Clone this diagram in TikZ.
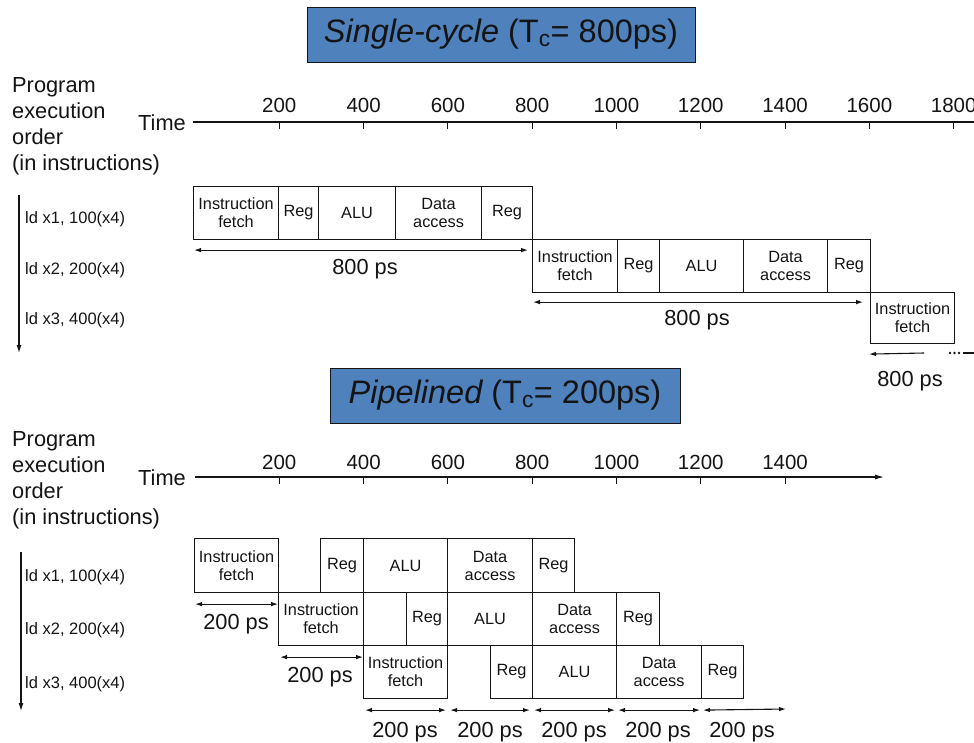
\documentclass[tikz,border=0pt]{standalone}
\usepackage{fontspec}
\setmainfont{Liberation Sans}
\usetikzlibrary{arrows.meta}
\definecolor{titleblue}{HTML}{4F81BD}
\definecolor{ink}{HTML}{141414}
\begin{document}
\begin{tikzpicture}[x=1pt,y=-1pt,
  stg/.style={draw=ink, line width=1.1pt, inner sep=0pt, anchor=north west, align=center, text=ink, font=\fontsize{16.3}{18}\selectfont},
  big/.style={font=\fontsize{21.8}{26}\selectfont, inner sep=0pt, text=ink},
  lefttxt/.style={big, anchor=base west},
  num/.style={font=\fontsize{20.5}{24}\selectfont, inner sep=0pt, anchor=base, text=ink},
  instr/.style={font=\fontsize{16.5}{18}\selectfont, inner sep=0pt, anchor=base west, text=ink},
  dim/.style={{Latex[length=7pt,width=4.5pt]}-{Latex[length=7pt,width=4.5pt]}, line width=1.1pt, draw=ink},
  axis/.style={line width=1.1pt, draw=ink},
  titlebox/.style={draw=ink, line width=0.9pt, fill=titleblue, inner sep=0pt, minimum height=55pt, font=\fontsize{32.5}{36}\selectfont, text=ink}
]
\useasboundingbox (0,0) rectangle (974,742);

% ---------------- titles ----------------
\node[titlebox, minimum width=388pt] (title1) at (501,34.5) {\itshape Single-cycle\upshape{} (T\textsubscript{c}= 800ps)};
\node[titlebox, minimum width=350pt] (title2) at (505,395.5) {\itshape Pipelined\upshape{} (T\textsubscript{c}= 200ps)};

% ================= SINGLE CYCLE =================
\node[lefttxt] (p1a) at (12,92) {Program};
\node[lefttxt] (p1b) at (12,118) {execution};
\node[lefttxt] (p1c) at (12,144) {order};
\node[lefttxt] (p1d) at (12,170) {(in instructions)};
\node[big, anchor=base east] (time1) at (186,130) {Time};

\coordinate (ta0) at (193,122);
\coordinate (taend) at (990,122);
\draw[axis] (ta0) -- (taend);
\foreach \t in {200,400,...,1800}{
  \coordinate (ta\t) at ({195+0.4215*\t},122);
  \draw[axis] (ta\t) -- ++(0,7);
  \node[num] (la\t) at ({195+0.4215*\t},112) {\t};
}

\coordinate (va1) at (19,195);
\coordinate (va2) at (19,353);
\draw[line width=1.2pt, draw=ink, -{Latex[length=8pt,width=5pt]}] (va1) -- (va2);
\node[instr] (i1) at (25,223) {ld x1, 100(x4)};
\node[instr] (i2) at (25,274) {ld x2, 200(x4)};
\node[instr] (i3) at (25,324) {ld x3, 400(x4)};

% row 1
\node[stg, minimum width=85pt, minimum height=53pt] (a1if) at (193,186) {Instruction\\fetch};
\node[stg, minimum width=40pt, minimum height=53pt] (a1r1) at (278,186) {Reg};
\node[stg, minimum width=77pt, minimum height=53pt] (a1alu) at (318,186) {ALU};
\node[stg, minimum width=86pt, minimum height=53pt] (a1da) at (395,186) {Data\\access};
\node[stg, minimum width=51pt, minimum height=53pt] (a1r2) at (481,186) {Reg};
% row 2
\node[stg, minimum width=85pt, minimum height=53pt] (a2if) at (532,239) {Instruction\\fetch};
\node[stg, minimum width=42pt, minimum height=53pt] (a2r1) at (617,239) {Reg};
\node[stg, minimum width=84pt, minimum height=53pt] (a2alu) at (659,239) {ALU};
\node[stg, minimum width=84pt, minimum height=53pt] (a2da) at (743,239) {Data\\access};
\node[stg, minimum width=43pt, minimum height=53pt] (a2r2) at (827,239) {Reg};
% row 3
\node[stg, minimum width=84pt, minimum height=51pt] (a3if) at (870,292) {Instruction\\fetch};

\draw[dim] ([yshift=-10pt,xshift=1pt]a1if.south west) -- ([yshift=-10pt,xshift=-5pt]a1r2.south east);
\node[big] (d1) at (365,269) {800 ps};
\draw[dim] ([yshift=-9pt,xshift=1pt]a2if.south west) -- ([yshift=-9pt,xshift=-8pt]a2r2.south east);
\node[big] (d2) at (697,320) {800 ps};
\coordinate (a3s) at (924,353);
\draw[line width=1.1pt, draw=ink, -{Latex[length=7pt,width=4.5pt]}] (a3s) -- ([yshift=-10pt,xshift=-1pt]a3if.south west);
\fill[ink] (950,353) circle (1.4pt) (954.5,353) circle (1.4pt) (959,353) circle (1.4pt);
\coordinate (dsh1) at (963,353);
\coordinate (dsh2) at (976,353);
\draw[line width=1.1pt, draw=ink] (dsh1) -- (dsh2);
\node[big] (d3) at (910,381) {800 ps};

% ================= PIPELINED =================
\node[lefttxt] (p2a) at (12,446) {Program};
\node[lefttxt] (p2b) at (12,472) {execution};
\node[lefttxt] (p2c) at (12,498) {order};
\node[lefttxt] (p2d) at (12,524) {(in instructions)};
\node[big, anchor=base east] (time2) at (186,485) {Time};

\coordinate (tb0) at (195,477);
\coordinate (tbend) at (884,477);
\draw[axis, -{Latex[length=9pt,width=5pt]}] (tb0) -- (tbend);
\foreach \t in {200,400,...,1400}{
  \coordinate (tb\t) at ({195+0.4215*\t},477);
  \draw[axis] (tb\t) -- ++(0,7);
  \node[num] (lb\t) at ({195+0.4215*\t},469) {\t};
}

\coordinate (vb1) at (21,552);
\coordinate (vb2) at (21,711);
\draw[line width=1.2pt, draw=ink, -{Latex[length=8pt,width=5pt]}] (vb1) -- (vb2);
\node[instr] (j1) at (25,581) {ld x1, 100(x4)};
\node[instr] (j2) at (25,634) {ld x2, 200(x4)};
\node[instr] (j3) at (25,688) {ld x3, 400(x4)};

% row 1
\node[stg, minimum width=84pt, minimum height=54pt] (b1if) at (194,538) {Instruction\\fetch};
\node[stg, minimum width=43pt, minimum height=54pt] (b1r1) at (320,538) {Reg};
\node[stg, minimum width=84pt, minimum height=54pt] (b1alu) at (363,538) {ALU};
\node[stg, minimum width=85pt, minimum height=54pt] (b1da) at (447,538) {Data\\access};
\node[stg, minimum width=42pt, minimum height=54pt] (b1r2) at (532,538) {Reg};
% row 2
\node[stg, minimum width=85pt, minimum height=53pt] (b2if) at (278,592) {Instruction\\fetch};
\node[stg, minimum width=41pt, minimum height=53pt] (b2r1) at (406,592) {Reg};
\node[stg, minimum width=85pt, minimum height=53pt] (b2alu) at (447,592) {ALU};
\node[stg, minimum width=84pt, minimum height=53pt] (b2da) at (532,592) {Data\\access};
\node[stg, minimum width=43pt, minimum height=53pt] (b2r2) at (616,592) {Reg};
% row 3
\node[stg, minimum width=84pt, minimum height=53pt] (b3if) at (363,645) {Instruction\\fetch};
\node[stg, minimum width=42pt, minimum height=53pt] (b3r1) at (490,645) {Reg};
\node[stg, minimum width=84pt, minimum height=53pt] (b3alu) at (532,645) {ALU};
\node[stg, minimum width=85pt, minimum height=53pt] (b3da) at (616,645) {Data\\access};
\node[stg, minimum width=42pt, minimum height=53pt] (b3r2) at (701,645) {Reg};

\draw[dim] ([yshift=-11pt,xshift=1pt]b1if.south west) -- ([yshift=-11pt,xshift=-1pt]b1if.south east);
\node[big] (e1) at (236,624) {200 ps};
\draw[dim] ([yshift=-11pt,xshift=2pt]b2if.south west) -- ([yshift=-11pt,xshift=-1pt]b2if.south east);
\node[big] (e2) at (320,677) {200 ps};

\coordinate (b3end) at (786,709);
\draw[dim] ([yshift=-11pt,xshift=2pt]b3if.south west) -- ([yshift=-11pt,xshift=-2pt]b3if.south east);
\draw[dim] ([yshift=-11pt,xshift=2pt]b3if.south east) -- ([yshift=-11pt,xshift=-2pt]b3alu.south west);
\draw[dim] ([yshift=-11pt,xshift=2pt]b3alu.south west) -- ([yshift=-11pt,xshift=-2pt]b3alu.south east);
\draw[dim] ([yshift=-11pt,xshift=2pt]b3da.south west) -- ([yshift=-11pt,xshift=-2pt]b3da.south east);
\draw[dim] ([yshift=-11pt,xshift=2pt]b3r2.south west) -- (b3end);
\node[big] (f1) at (405,732) {200 ps};
\node[big] (f2) at (490,732) {200 ps};
\node[big] (f3) at (574,732) {200 ps};
\node[big] (f4) at (658,732) {200 ps};
\node[big] (f5) at (742,732) {200 ps};
\end{tikzpicture}
\end{document}
